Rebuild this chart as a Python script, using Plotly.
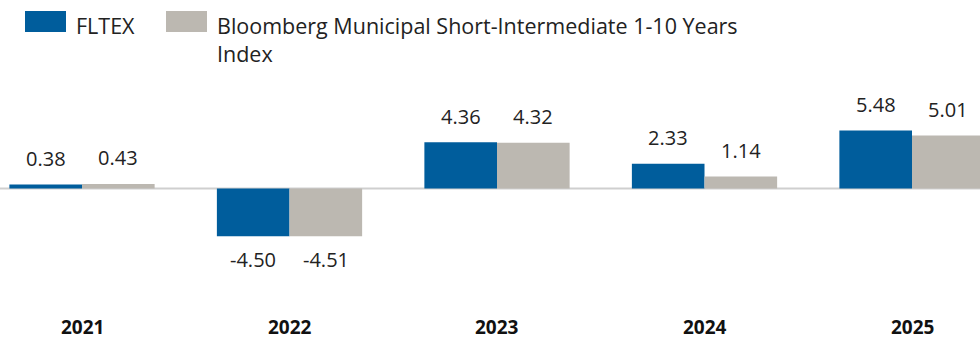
import plotly.graph_objects as go

# Calendar-year returns (%)
years = ["2021", "2022", "2023", "2024", "2025"]
fund_name = "FLTEX"
index_name = "Bloomberg Municipal Short-Intermediate 1-10 Years<br>Index"
fund_returns = [0.38, -4.50, 4.36, 2.33, 5.48]
index_returns = [0.43, -4.51, 4.32, 1.14, 5.01]

BLUE = "#005D9C"
GREY = "#BCB8B1"
TEXT = "#222222"
FONT = "Open Sans"

W, H = 980, 341
ZERO_PX = 188.5          # vertical pixel position of the zero line
PX_PER_UNIT = 10.6       # vertical scale
GROUP_PX = 207.5         # horizontal distance between year groups
FIRST_PX = 82            # centre of the first group
BARGAP = 0.3
HALF = (1 - BARGAP) / 4  # offset of each bar centre from the group centre

fig = go.Figure()
fig.add_trace(go.Bar(x=years, y=fund_returns, name=fund_name,
                     marker=dict(color=BLUE, line=dict(width=0))))
fig.add_trace(go.Bar(x=years, y=index_returns, name=index_name,
                     marker=dict(color=GREY, line=dict(width=0))))

annotations = []
for series, off in ((fund_returns, -HALF), (index_returns, HALF)):
    for i, v in enumerate(series):
        annotations.append(dict(
            x=i + off, y=v, xref="x", yref="y",
            text=f"{v:.2f}", showarrow=False,
            yshift=26 if v >= 0 else -23,
            font=dict(family=FONT, size=20, color=TEXT),
        ))

# Year labels beneath the plot
for i, yr in enumerate(years):
    annotations.append(dict(
        x=i, y=1 - 327 / H, xref="x", yref="paper", text=f"<b>{yr}</b>",
        showarrow=False, yanchor="middle",
        font=dict(family=FONT, size=19, color="#111111"),
    ))

# Legend drawn as swatches + labels
legend_items = [(BLUE, fund_name, 25), (GREY, index_name, 166)]
shapes = []
for color, name, x0 in legend_items:
    shapes.append(dict(type="rect", xref="paper", yref="paper",
                       x0=x0 / W, x1=(x0 + 41) / W,
                       y0=1 - 32 / H, y1=1 - 11 / H,
                       fillcolor=color, line=dict(width=0)))
    annotations.append(dict(
        x=(x0 + 49) / W, y=1 - 9 / H, xref="paper", yref="paper",
        xanchor="left", yanchor="top", align="left", text=name,
        showarrow=False, font=dict(family=FONT, size=21.5, color=TEXT),
    ))

# Zero line
shapes.append(dict(type="line", xref="paper", yref="y", x0=0, x1=1, y0=0, y1=0,
                   line=dict(color="#CFCFCF", width=2), layer="below"))

fig.update_layout(
    width=W, height=H,
    margin=dict(l=0, r=0, t=0, b=0),
    paper_bgcolor="white", plot_bgcolor="white",
    barmode="group", bargap=BARGAP, bargroupgap=0,
    showlegend=False,
    xaxis=dict(type="category", showticklabels=False, showgrid=False,
               zeroline=False, showline=False,
               range=[-FIRST_PX / GROUP_PX, (W - FIRST_PX) / GROUP_PX]),
    yaxis=dict(showticklabels=False, showgrid=False, zeroline=False,
               showline=False,
               range=[-(H - ZERO_PX) / PX_PER_UNIT, ZERO_PX / PX_PER_UNIT]),
    annotations=annotations,
    shapes=shapes,
)

fig.write_html("out.html")
